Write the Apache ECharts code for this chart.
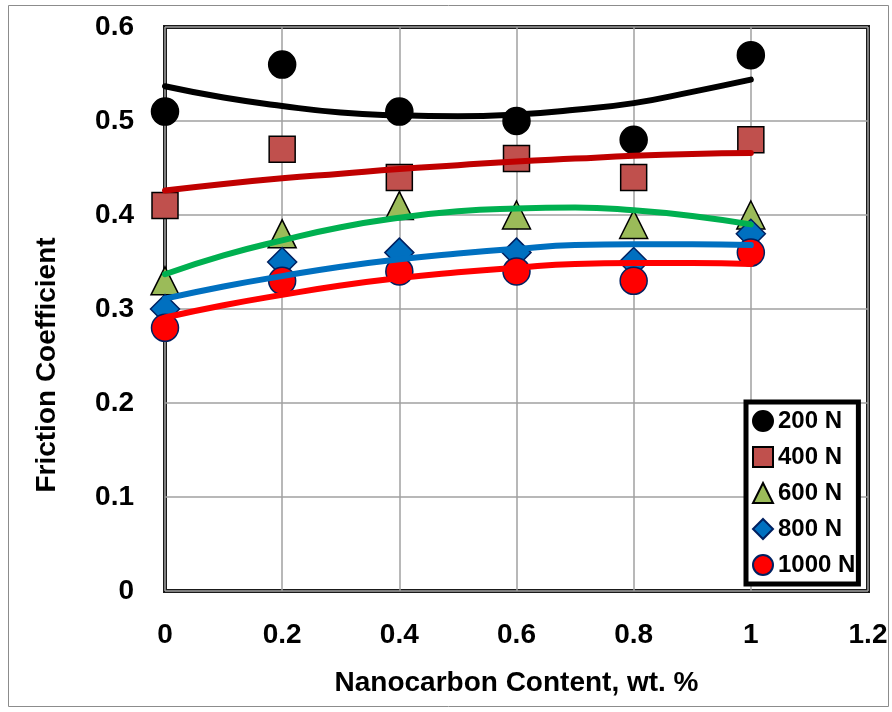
<!DOCTYPE html>
<html>
<head>
<meta charset="utf-8">
<script src="https://cdn.jsdelivr.net/npm/echarts@6/dist/echarts.min.js"></script>
<style>
  html, body { margin: 0; padding: 0; background: #fff; }
  #chart { width: 892px; height: 712px; }
</style>
</head>
<body>
<div id="chart"></div>
<script>
// nanocarbon content, wt. %
const xValues = [0, 0.2, 0.4, 0.6, 0.8, 1.0];

// measured friction coefficients
const load200 = [0.51, 0.56, 0.51, 0.50, 0.48, 0.57];
const load400 = [0.41, 0.47, 0.44, 0.46, 0.44, 0.48];
const load600 = [0.33, 0.38, 0.41, 0.40, 0.39, 0.40];
const load800 = [0.30, 0.35, 0.36, 0.36, 0.35, 0.38];
const load1000 = [0.28, 0.33, 0.34, 0.34, 0.33, 0.36];

// trend lines every 0.1
const trendX = [0, 0.1, 0.2, 0.3, 0.4, 0.5, 0.6, 0.7, 0.8, 0.9, 1.0];
const trend200 = [0.537, 0.525, 0.516, 0.509, 0.506, 0.505, 0.507, 0.512, 0.519, 0.531, 0.544];
const trend400 = [0.426, 0.433, 0.439, 0.444, 0.449, 0.453, 0.457, 0.460, 0.463, 0.465, 0.466];
const trend600 = [0.337, 0.357, 0.373, 0.387, 0.397, 0.404, 0.407, 0.408, 0.405, 0.399, 0.390];
const trend800 = [0.311, 0.324, 0.335, 0.345, 0.353, 0.359, 0.364, 0.368, 0.369, 0.369, 0.368];
const trend1000 = [0.291, 0.304, 0.315, 0.325, 0.333, 0.339, 0.344, 0.348, 0.349, 0.349, 0.348];

const seriesNames = ['200 N', '400 N', '600 N', '800 N', '1000 N'];

const font = '"Liberation Sans", Arial, sans-serif';

function pairs(xs, ys) {
  return xs.map((x, i) => [x, ys[i]]);
}

function fmt(v) {
  return String(+v.toFixed(1));
}

let myChart = echarts.init(document.getElementById('chart'));

let pointSeries = [
  { data: load200, symbol: 'circle', size: 27, color: '#000000', border: '#000000' },
  { data: load400, symbol: 'rect', size: 26, color: '#C0504D', border: '#000000' },
  { data: load600, symbol: 'triangle', size: 28, color: '#9BBB59', border: '#000000' },
  { data: load800, symbol: 'diamond', size: 29, color: '#0070C0', border: '#002060' },
  { data: load1000, symbol: 'circle', size: 27, color: '#FF0000', border: '#002060' }
].map((s, i) => ({
  name: seriesNames[i],
  type: 'scatter',
  data: pairs(xValues, s.data),
  symbol: s.symbol,
  symbolSize: s.size,
  z: 2,
  itemStyle: {
    color: s.color,
    borderColor: s.border,
    borderWidth: 1.5,
    opacity: 1
  }
}));

let trendSeries = [
  { data: trend200, color: '#000000' },
  { data: trend400, color: '#C00000' },
  { data: trend600, color: '#00B050' },
  { data: trend800, color: '#0070C0' },
  { data: trend1000, color: '#FF0000' }
].map(s => ({
  type: 'line',
  data: pairs(trendX, s.data),
  smooth: true,
  showSymbol: false,
  silent: true,
  z: 3,
  lineStyle: {
    color: s.color,
    width: 6,
    cap: 'round'
  }
}));

let option = {
  backgroundColor: '#ffffff',
  animation: false,
  graphic: [{
    type: 'rect',
    shape: { x: 8.5, y: 5.5, width: 880, height: 701 },
    style: { fill: 'none', stroke: '#8c8c8c', lineWidth: 1 },
    silent: true
  }, {
    // y title sits lower than the plot centre in the original
    type: 'text',
    x: 47,
    y: 365,
    rotation: Math.PI / 2,
    style: {
      text: 'Friction Coefficient',
      fontFamily: font,
      fontWeight: 'bold',
      fontSize: 28,
      fill: '#000000',
      align: 'center',
      verticalAlign: 'middle'
    }
  }],
  grid: {
    left: 165,
    right: 24,
    top: 27,
    bottom: 121,
    show: true,
    borderColor: '#1a1a1a',
    borderWidth: 4,
    backgroundColor: 'transparent'
  },
  legend: {
    data: seriesNames,
    orient: 'vertical',
    left: 746,
    top: 402,
    itemWidth: 20,
    itemHeight: 20,
    itemGap: 12,
    itemTextGap: 5,
    padding: [7, 3, 7, 6],
    borderColor: '#000000',
    borderWidth: 5,
    backgroundColor: '#ffffff',
    textStyle: {
      fontFamily: font,
      fontWeight: 'bold',
      fontSize: 24,
      color: '#000000'
    }
  },
  xAxis: {
    type: 'value',
    min: 0,
    max: 1.2,
    interval: 0.2,
    name: 'Nanocarbon Content, wt. %',
    nameLocation: 'middle',
    nameGap: 78,
    nameTextStyle: {
      fontFamily: font,
      fontWeight: 'bold',
      fontSize: 28,
      color: '#000000'
    },
    axisLine: { show: false },
    axisTick: { show: false },
    axisLabel: {
      margin: 30,
      formatter: fmt,
      fontFamily: font,
      fontWeight: 'bold',
      fontSize: 28,
      color: '#000000'
    },
    splitLine: {
      show: true,
      lineStyle: { color: '#a0a0a0', width: 1.5 }
    }
  },
  yAxis: {
    type: 'value',
    min: 0,
    max: 0.6,
    interval: 0.1,
    axisLine: { show: false },
    axisTick: { show: false },
    axisLabel: {
      margin: 31,
      formatter: fmt,
      fontFamily: font,
      fontWeight: 'bold',
      fontSize: 28,
      color: '#000000'
    },
    splitLine: {
      show: true,
      lineStyle: { color: '#a0a0a0', width: 1.5 }
    }
  },
  series: pointSeries.concat(trendSeries)
};

myChart.setOption(option);
</script>
</body>
</html>
